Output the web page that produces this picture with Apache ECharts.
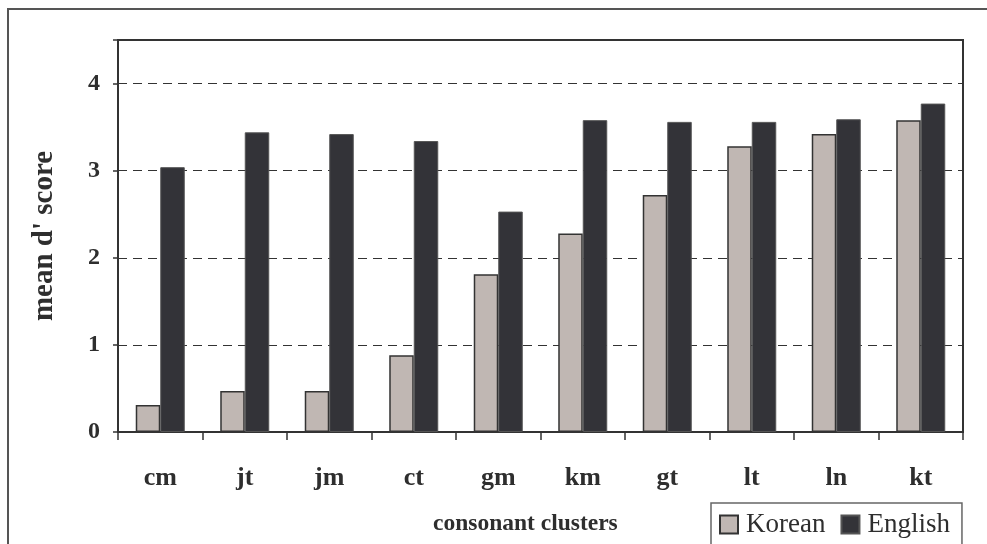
<!DOCTYPE html>
<html>
<head>
<meta charset="utf-8">
<script src="https://cdn.jsdelivr.net/npm/echarts@6/dist/echarts.min.js"></script>
<style>html,body{margin:0;padding:0;background:#fff}#c{width:987px;height:544px}</style>
</head>
<body>
<div id="c"></div>
<script>
const categories = ['cm','jt','jm','ct','gm','km','gt','lt','ln','kt'];
const korean = [0.31, 0.47, 0.47, 0.88, 1.81, 2.28, 2.72, 3.28, 3.42, 3.58];
const english = [3.04, 3.44, 3.42, 3.34, 2.53, 3.58, 3.56, 3.56, 3.59, 3.77];
const yTicks = [0, 1, 2, 3, 4];

const FONT = '"Liberation Serif", "Times New Roman", serif';
const chart = echarts.init(document.getElementById('c'), null, {renderer: 'canvas'});
chart.setOption({
  animation: false,
  backgroundColor: '#fff',
  grid: {left: 118, right: 24, top: 40, bottom: 112, show: true, borderColor: '#333', borderWidth: 2, containLabel: false},
  graphic: [
    {type: 'rect', shape: {x: 8, y: 9, width: 1000, height: 560}, style: {fill: 'none', stroke: '#555', lineWidth: 2}, silent: true, z: 0},
    {type: 'text', left: 433, top: 512, style: {text: 'consonant clusters', font: 'bold 23.5px ' + FONT, fill: '#2e2e2e'}}
  ],
  legend: {
    left: 711, top: 503,
    padding: [8, 12, 10, 8],
    itemWidth: 18, itemHeight: 18, itemGap: 15,
    icon: 'rect',
    borderColor: '#666', borderWidth: 1.5,
    textStyle: {fontFamily: FONT, fontSize: 27, color: '#2e2e2e', padding: [0, 0, 0, 3]},
    data: ['Korean', 'English']
  },
  xAxis: {
    type: 'category', data: categories,
    axisLine: {lineStyle: {color: '#333', width: 2}},
    axisTick: {show: true, length: 8, lineStyle: {color: '#333', width: 1.5}},
    axisLabel: {margin: 33, fontFamily: FONT, fontWeight: 'bold', fontSize: 26, color: '#2e2e2e'}
  },
  yAxis: {
    type: 'value', min: 0, max: 4.5, interval: 1,
    name: "mean d' score", nameLocation: 'middle', nameGap: 59, nameRotate: 90,
    nameTextStyle: {fontFamily: FONT, fontWeight: 'bold', fontSize: 29, color: '#2e2e2e'},
    axisLine: {show: true, lineStyle: {color: '#333', width: 2}},
    axisTick: {show: true, length: 5, lineStyle: {color: '#333', width: 1.5}},
    axisLabel: {margin: 18, fontFamily: FONT, fontWeight: 'bold', fontSize: 24, color: '#2e2e2e',
      formatter: v => yTicks.includes(v) ? String(v) : ''},
    splitLine: {show: true, lineStyle: {color: '#333', type: [9, 6], width: 1}}
  },
  series: [
    {name: 'Korean', type: 'bar', data: korean, barGap: '0%', barCategoryGap: '42%',
      itemStyle: {color: '#c0b7b3', borderColor: '#333', borderWidth: 1.5}},
    {name: 'English', type: 'bar', data: english, barGap: '0%', barCategoryGap: '42%',
      itemStyle: {color: '#333338', borderColor: '#555', borderWidth: 1}}
  ]
});
</script>
</body>
</html>
